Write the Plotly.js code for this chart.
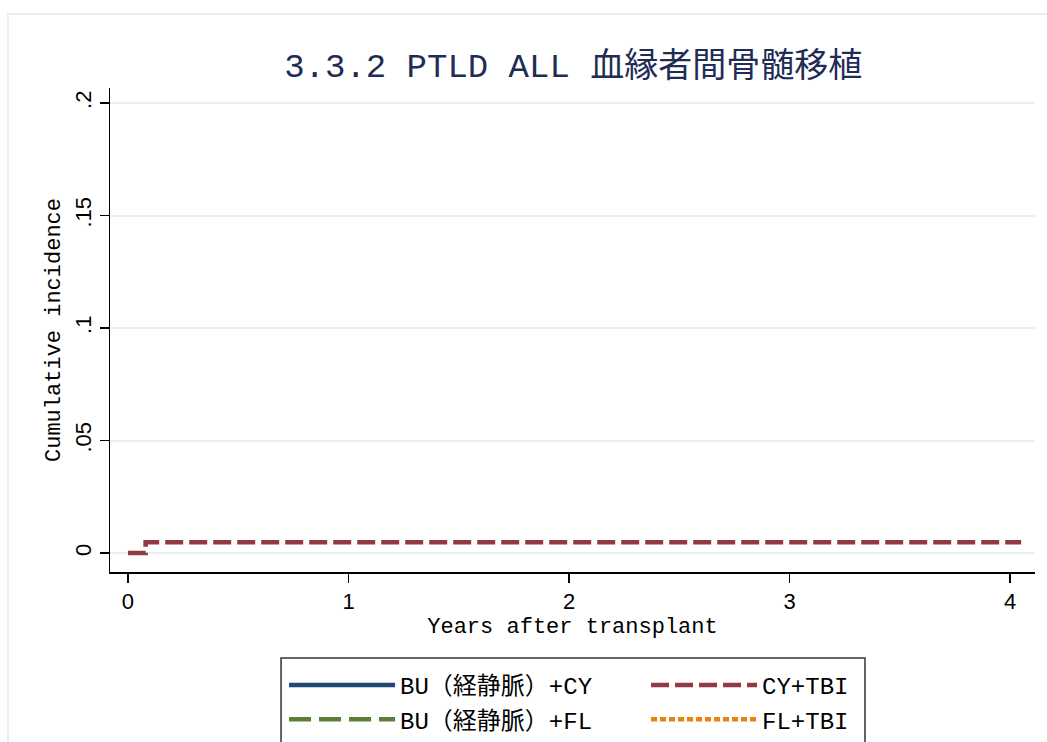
<!DOCTYPE html>
<html>
<head>
<meta charset="utf-8">
<script src="https://cdn.plot.ly/plotly-3.0.1.min.js"></script>
<style>
html,body{margin:0;padding:0;background:#fff;}
#frame{position:absolute;left:7px;top:13px;width:1060px;height:760px;border-left:2px solid #e6eff2;border-top:2px solid #e6eff2;}
#chart{position:absolute;left:0;top:0;width:1047px;height:742px;}
</style>
</head>
<body>
<div id="frame"></div>
<div id="chart"></div>
<script>
const seriesNames = ["BU（経静脈）+CY", "CY+TBI", "BU（経静脈）+FL", "FL+TBI"];
const seriesColors = ["#1f4a78", "#913a42", "#5b7f35", "#e8830c"];
const seriesDash = ["solid", "18px,6px", "22px,8px", "6px,3px"];
// step-function data (years, cumulative incidence); series with no visible curve hold a single empty point
const buCyX = [null], buCyY = [null];
const cyTbiX = [0, 0.08, 4.05];
const cyTbiY = [0, 0.0048, 0.0048];
const buFlX = [null], buFlY = [null];
const flTbiX = [null], flTbiY = [null];
const xTicks = [0, 1, 2, 3, 4];
const xTickText = ["0", "1", "2", "3", "4"];
const yTicks = [0, 0.05, 0.1, 0.15, 0.2];
const yTickText = ["0", ".05", ".1", ".15", ".2"];

const xs = [buCyX, cyTbiX, buFlX, flTbiX];
const ys = [buCyY, cyTbiY, buFlY, flTbiY];
const mono = "Liberation Mono, Noto Sans CJK JP, monospace";

const traces = seriesNames.map((n, i) => ({
  type: "scatter", mode: "lines", name: n,
  x: xs[i], y: ys[i],
  line: {color: seriesColors[i], width: 4.5, dash: seriesDash[i], shape: "hv"},
  showlegend: true
}));

const layout = {
  width: 1047, height: 742,
  paper_bgcolor: "rgba(0,0,0,0)", plot_bgcolor: "#fff",
  margin: {l: 110, r: 12, t: 88, b: 170},
  title: {text: "3.3.2 PTLD ALL 血縁者間骨髄移植", x: 0.5475, xanchor: "center", y: 0.912, yanchor: "middle",
          font: {family: mono, size: 34, color: "#1e2c56"}},
  xaxis: {
    range: [-0.0816, 4.113], tickvals: xTicks, ticktext: xTickText,
    showline: true, linecolor: "#000", linewidth: 1.5, mirror: false,
    ticks: "outside", ticklen: 9, tickwidth: 1.5, tickcolor: "#000",
    showgrid: false, zeroline: false,
    tickfont: {family: "Liberation Sans, Arial, sans-serif", size: 22, color: "#000"},
    title: {text: "Years after transplant", standoff: 4, font: {family: mono, size: 22, color: "#000"}}
  },
  yaxis: {
    range: [-0.0084, 0.2067], tickvals: yTicks, ticktext: yTickText, tickangle: -90,
    showline: true, linecolor: "#000", linewidth: 1.5,
    ticks: "outside", ticklen: 9, tickwidth: 1.5, tickcolor: "#000",
    showgrid: true, gridcolor: "#e8f0f2", gridwidth: 2, zeroline: false,
    tickfont: {family: "Liberation Sans, Arial, sans-serif", size: 22, color: "#000"},
    title: {text: "Cumulative incidence", standoff: 4, font: {family: mono, size: 22, color: "#000"}}
  },
  showlegend: true,
  legend: {
    orientation: "h", xref: "container", yref: "container",
    x: 0.2713, xanchor: "left", y: 0.1065, yanchor: "top",
    borderwidth: 0, bgcolor: "rgba(0,0,0,0)",
    font: {family: mono, size: 24, color: "#000"},
    itemwidth: 106, entrywidth: 241, traceorder: "normal",
    tracegroupgap: 0
  },
  shapes: [{
    type: "rect", xref: "paper", yref: "paper",
    x0: 0.1849, x1: 0.8162, y0: -0.1777, y1: -0.40,
    line: {color: "#333", width: 1.5}, fillcolor: "rgba(0,0,0,0)"
  }]
};

Plotly.newPlot("chart", traces, layout, {displayModeBar: false, staticPlot: true});
</script>
</body>
</html>
